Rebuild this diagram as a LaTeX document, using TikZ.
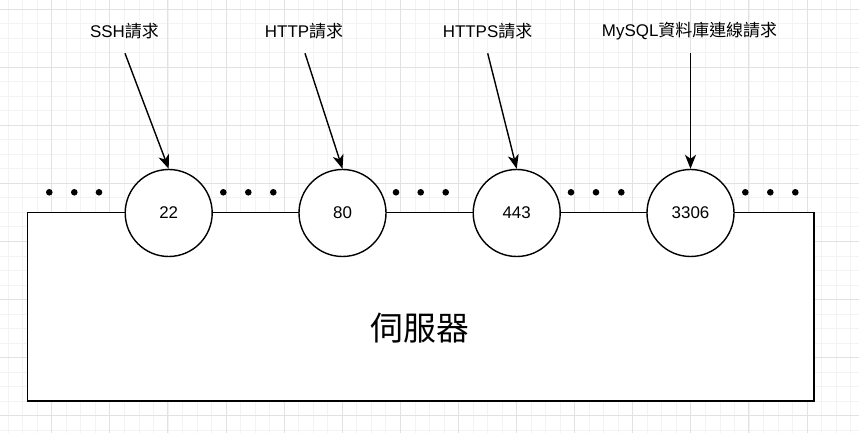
\documentclass[tikz,border=0pt]{standalone}
\usepackage{fontspec}
\setmainfont{Liberation Sans}
\newfontfamily\cjk{Noto Sans CJK TC}
\usetikzlibrary{arrows.meta}
\definecolor{gridminor}{RGB}{243,243,243}
\definecolor{gridmajor}{RGB}{226,226,226}
\begin{document}
\begin{tikzpicture}[x=1bp,y=-1bp,
  port/.style={circle,draw,line width=1.4bp,fill=white,minimum size=87bp,inner sep=0,font=\fontsize{17}{20}\selectfont},
  req/.style={font=\fontsize{17}{20}\selectfont,inner sep=0},
  arr/.style={line width=1.4bp,-{Stealth[length=14bp,width=11bp,inset=4bp]}},
  dotn/.style={circle,fill=black,inner sep=0,minimum size=6.6bp},
  srvbox/.style={draw,line width=1.4bp,fill=white,minimum width=786.5bp,minimum height=188.3bp,inner sep=0}]
\fill[white] (0,0) rectangle (859,433);
\useasboundingbox (0,0) rectangle (859,433);
% grid
\foreach \i in {0,...,59} \draw[gridminor,line width=0.8bp] ({8.2+\i*14.525},0) -- ({8.2+\i*14.525},433);
\foreach \j in {0,...,29} \draw[gridminor,line width=0.8bp] (0,{9+\j*14.525}) -- (859,{9+\j*14.525});
\foreach \i in {0,...,13} \draw[gridmajor,line width=0.9bp] ({51.7+\i*58.1},0) -- ({51.7+\i*58.1},433);
\foreach \j in {0,...,7} \draw[gridmajor,line width=0.9bp] (0,{9+\j*58.1}) -- (859,{9+\j*58.1});
% server
\node[srvbox] (srv) at (420.75,306.85) {};
\node[inner sep=0,font=\cjk\fontsize{33}{36}\selectfont] (srvlabel) at (420.3,327.7) {伺服器};
% ports
\node[port] (c1) at (168.7,213) {22};
\node[port] (c2) at (342.5,213) {80};
\node[port] (c3) at (516.7,213) {443};
\node[port] (c4) at (690.5,213) {3306};
% dots
\foreach \x [count=\k] in {49.3,74.3,99,223.3,248.3,273.3,396,420.7,445.7,571,596,621.3,745.3,770.3,795.3}
  \node[dotn] (d\k) at (\x,192.3) {};
% labels
\node[req] (l1) at (124.5,31) {SSH{\cjk 請求}};
\node[req] (l2) at (304,31) {HTTP{\cjk 請求}};
\node[req] (l3) at (487.5,31) {HTTPS{\cjk 請求}};
\node[req] (l4) at (689.5,31) {MySQL{\cjk 資料庫連線請求}};
\coordinate (s1) at (125,53.3);
\coordinate (s2) at (305,53.3);
\coordinate (s3) at (487.7,53.3);
\coordinate (s4) at (690.5,53.3);
\draw[arr] (s1) -- (c1.north);
\draw[arr] (s2) -- (c2.north);
\draw[arr] (s3) -- (c3.north);
\draw[arr] (s4) -- (c4.north);
\end{tikzpicture}
\end{document}
